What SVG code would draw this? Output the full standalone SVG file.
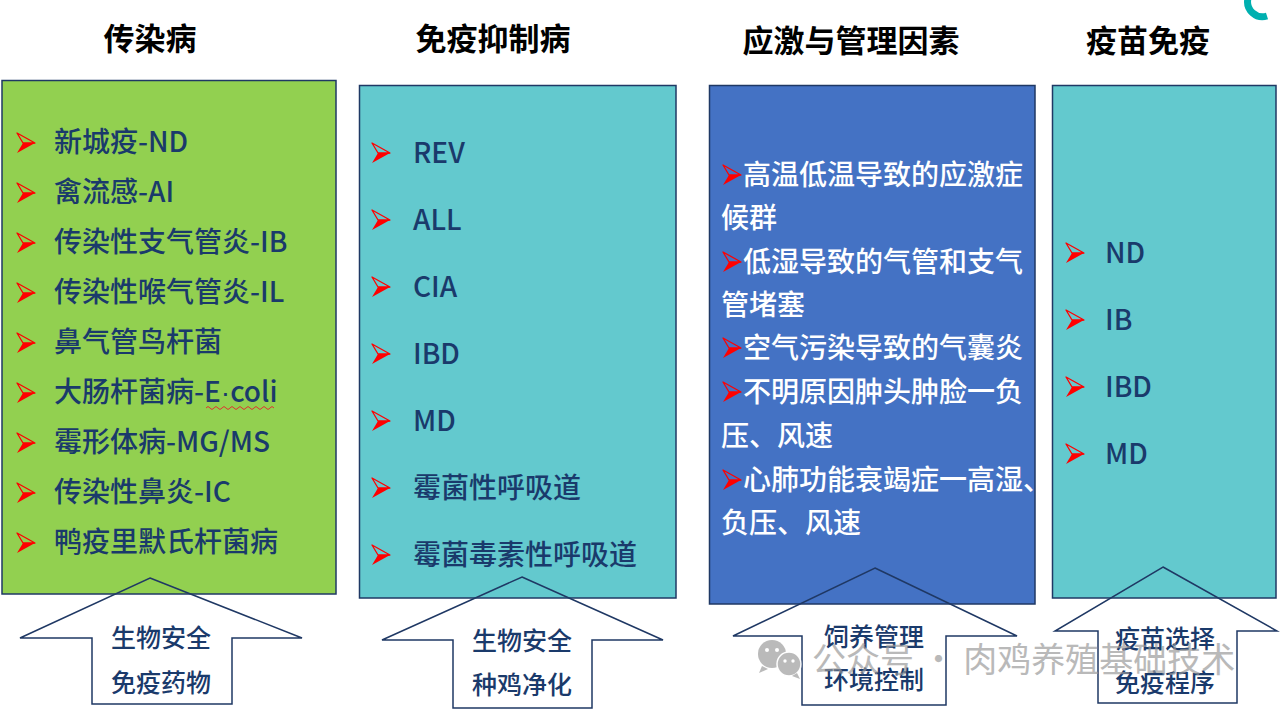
<svg xmlns="http://www.w3.org/2000/svg" xmlns:xlink="http://www.w3.org/1999/xlink" width="1280" height="710" viewBox="0 0 1280 710">
<style>
.hd{font-family:"Noto Sans CJK SC","Liberation Sans",sans-serif;font-size:31px;font-weight:bold;fill:#000;text-anchor:middle}
.it{font-family:"Noto Sans CJK SC","Liberation Sans",sans-serif;font-size:28px;font-weight:500;fill:#1A3A6B}
.wt{font-family:"Noto Sans CJK SC","Liberation Sans",sans-serif;font-size:28px;font-weight:500;fill:#fff}
.ar{font-family:"Noto Sans CJK SC","Liberation Sans",sans-serif;font-size:25px;font-weight:500;fill:#1A3A6B;text-anchor:middle}
.box{stroke:#1F3864;stroke-width:1.5}
.up{fill:none;stroke:#1F3864;stroke-width:1.5}
.wm{font-family:"Noto Sans CJK SC","Liberation Sans",sans-serif;font-size:34px;fill:#999;opacity:0.85}
.lat{font-family:"Liberation Sans",sans-serif}
</style>
<defs>
<g id="bul">
<path d="M0,0 L18,10 L6,10 Z" fill="none" stroke="#f00" stroke-width="1.3" stroke-linejoin="round"/>
<path d="M0,20 L18,10 L6,10 Z" fill="#f00"/>
</g>
</defs>
<rect width="1280" height="710" fill="#fff"/>
<path d="M1267,16 A15,15 0 1 1 1272,-10" fill="none" stroke="#00B0B0" stroke-width="7"/>

<g id="headers">
<text class="hd" x="150" y="50">传染病</text>
<text class="hd" x="493" y="50">免疫抑制病</text>
<text class="hd" x="851" y="52">应激与管理因素</text>
<text class="hd" x="1148" y="52">疫苗免疫</text>
</g>

<g id="box-infectious">
<rect class="box" x="2" y="80.5" width="334" height="513.5" fill="#92D050"/>
<use xlink:href="#bul" x="17" y="133"/><text class="it" x="54" y="152">新城疫-ND</text>
<use xlink:href="#bul" x="17" y="183"/><text class="it" x="54" y="202">禽流感-AI</text>
<use xlink:href="#bul" x="17" y="233"/><text class="it" x="54" y="252">传染性支气管炎-IB</text>
<use xlink:href="#bul" x="17" y="283"/><text class="it" x="54" y="302">传染性喉气管炎-IL</text>
<use xlink:href="#bul" x="17" y="333"/><text class="it" x="54" y="352">鼻气管鸟杆菌</text>
<use xlink:href="#bul" x="17" y="383"/><text class="it" x="54" y="402">大肠杆菌病-E<tspan class="lat">·</tspan>coli</text>
<path d="M206,408 q2,-3 4,0 t4,0 t4,0 t4,0 t4,0 t4,0 t4,0 t4,0 t4,0 t4,0 t4,0 t4,0 t4,0 t4,0 t4,0 t4,0 t4,0" fill="none" stroke="#E03030" stroke-width="1"/>
<use xlink:href="#bul" x="17" y="433"/><text class="it" x="54" y="452">霉形体病-MG/MS</text>
<use xlink:href="#bul" x="17" y="483"/><text class="it" x="54" y="502">传染性鼻炎-IC</text>
<use xlink:href="#bul" x="17" y="533"/><text class="it" x="54" y="552">鸭疫里默氏杆菌病</text>
</g>

<g id="box-immunosuppressive">
<rect class="box" x="359.5" y="85.5" width="316.5" height="512.5" fill="#63C9CE"/>
<use xlink:href="#bul" x="372" y="143"/><text class="it" x="413" y="163">REV</text>
<use xlink:href="#bul" x="372" y="210"/><text class="it" x="413" y="230">ALL</text>
<use xlink:href="#bul" x="372" y="277"/><text class="it" x="413" y="297">CIA</text>
<use xlink:href="#bul" x="372" y="344"/><text class="it" x="413" y="364">IBD</text>
<use xlink:href="#bul" x="372" y="411"/><text class="it" x="413" y="431">MD</text>
<use xlink:href="#bul" x="372" y="478"/><text class="it" x="413" y="498">霉菌性呼吸道</text>
<use xlink:href="#bul" x="372" y="545"/><text class="it" x="413" y="565">霉菌毒素性呼吸道</text>
</g>

<g id="box-stress">
<rect class="box" x="709.5" y="85.5" width="325.5" height="518.5" fill="#4472C4"/>
<use xlink:href="#bul" x="723" y="165"/><text class="wt" x="743" y="185">高温低温导致的应激症</text>
<text class="wt" x="721" y="228">候群</text>
<use xlink:href="#bul" x="723" y="252"/><text class="wt" x="743" y="272">低湿导致的气管和支气</text>
<text class="wt" x="721" y="315">管堵塞</text>
<use xlink:href="#bul" x="723" y="338"/><text class="wt" x="743" y="358">空气污染导致的气囊炎</text>
<use xlink:href="#bul" x="723" y="382"/><text class="wt" x="743" y="402">不明原因肿头肿脸一负</text>
<text class="wt" x="721" y="446">压、风速</text>
<use xlink:href="#bul" x="723" y="470"/><text class="wt" x="743" y="490">心肺功能衰竭症一高湿、</text>
<text class="wt" x="721" y="533">负压、风速</text>
</g>

<g id="box-vaccine">
<rect class="box" x="1052.5" y="85.5" width="223.5" height="512.5" fill="#63C9CE"/>
<use xlink:href="#bul" x="1066" y="243"/><text class="it" x="1105" y="263">ND</text>
<use xlink:href="#bul" x="1066" y="310"/><text class="it" x="1105" y="330">IB</text>
<use xlink:href="#bul" x="1066" y="377"/><text class="it" x="1105" y="397">IBD</text>
<use xlink:href="#bul" x="1066" y="444"/><text class="it" x="1105" y="464">MD</text>
</g>

<g id="connectors">
<g id="arrow1"><path class="up" d="M150,578 L302,638 L232,638 L232,704 L92,704 L92,638 L20,638 Z"/>
<text class="ar" x="161" y="647">生物安全</text><text class="ar" x="161" y="692">免疫药物</text></g>
<g id="arrow2"><path class="up" d="M522,577 L663,640 L592,640 L592,708 L453,708 L453,640 L382,640 Z"/>
<text class="ar" x="522" y="650">生物安全</text><text class="ar" x="522" y="694">种鸡净化</text></g>
<g id="arrow3"><path class="up" d="M875,568 L1017,636 L946,636 L946,705 L802,705 L802,636 L733,636 Z"/>
<text class="ar" x="874" y="646">饲养管理</text><text class="ar" x="874" y="689">环境控制</text></g>
<g id="arrow4"><path class="up" d="M1163,567 L1277,631 L1237,631 L1237,703 L1098,703 L1098,631 L1055,631 Z"/>
<text class="ar" x="1165" y="648">疫苗选择</text><text class="ar" x="1165" y="692">免疫程序</text></g>
</g>

<g id="watermark" opacity="0.8">
<circle cx="772" cy="654" r="14" fill="#aaa"/>
<path d="M762,666 l-3,7 l9,-4 Z" fill="#aaa"/>
<circle cx="789" cy="664" r="12" fill="#aaa" stroke="#fff" stroke-width="1.5"/>
<path d="M797,673 l3,6 l-8,-3 Z" fill="#aaa"/>
<circle cx="767" cy="650" r="2" fill="#fff"/><circle cx="777" cy="650" r="2" fill="#fff"/>
<circle cx="785" cy="661" r="1.7" fill="#fff"/><circle cx="793" cy="661" r="1.7" fill="#fff"/>
<text class="wm" x="812" y="672">公众号 · 肉鸡养殖基础技术</text>
</g>
</svg>
